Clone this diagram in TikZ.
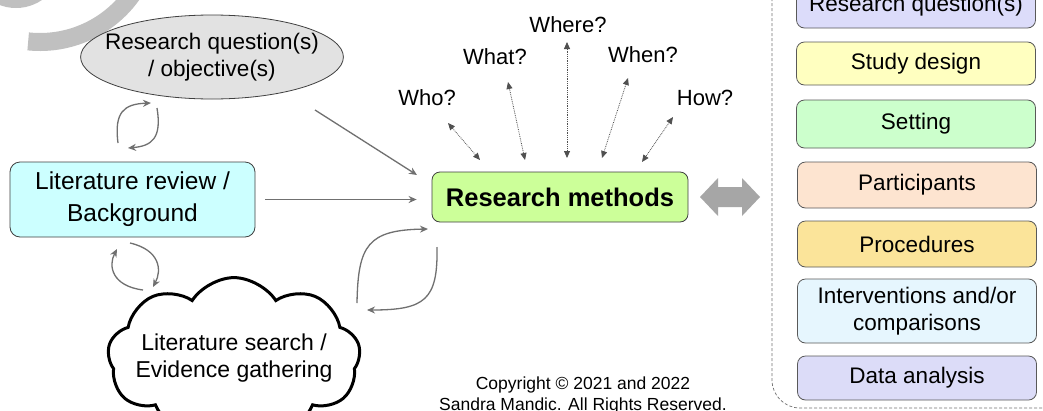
\documentclass[tikz,border=0pt]{standalone}
\usepackage{fontspec}
\setmainfont{Liberation Sans}
\usetikzlibrary{shapes.geometric,shapes.symbols,arrows.meta,calc}
\newcommand\fsz[2]{\fontsize{#1}{#2}\selectfont}
\definecolor{ringgrey}{HTML}{C0C0C0}
\definecolor{ellfill}{HTML}{E2E2E2}
\definecolor{litfill}{HTML}{CCFFFF}
\definecolor{rmfill}{HTML}{CCFF99}
\definecolor{connc}{HTML}{707070}
\definecolor{qc}{HTML}{505050}
\definecolor{blockc}{HTML}{A6A6A6}
\definecolor{rqfill}{HTML}{DCDCFA}
\definecolor{sdfill}{HTML}{FFFFC0}
\definecolor{setfill}{HTML}{CCFFCC}
\definecolor{parfill}{HTML}{FDE4D0}
\definecolor{profill}{HTML}{FBE49A}
\definecolor{intfill}{HTML}{E6F6FE}
\definecolor{dafill}{HTML}{DCDCF8}
\begin{document}
\begin{tikzpicture}[x=1pt,y=-1pt,
  rbox/.style={draw=black!65, line width=0.8pt, rounded corners=8pt,
    minimum width=239pt, inner sep=0pt, align=center, font=\fsz{22.5}{27}},
  conn/.style={draw=connc, line width=1.3pt, -{Stealth[length=8pt,width=7pt]}},
  cyc/.style={draw=connc, line width=1.3pt, -{Stealth[length=8pt,width=7pt]}},
  qarr/.style={draw=qc, line width=0.8pt, densely dotted,
    {Triangle[length=7pt,width=6pt]}-{Triangle[length=7pt,width=6pt]}},
  qlab/.style={font=\fsz{22}{25}, inner sep=0pt}
]
\useasboundingbox (0,0) rectangle (1043,410);
\clip (0,0) rectangle (1043,410);
\fill[white] (0,0) rectangle (1043,410);

% decorative grey fragments (top-left)
\fill[ringgrey] (16,-38) circle (46);
\draw[ringgrey, line width=18pt] (40,-71) ++(96:113) arc (96:30:113);

% ellipse
\node[ellipse, draw=black!75, line width=0.8pt, fill=ellfill, minimum width=260pt,
  minimum height=84pt, inner xsep=-14pt, inner ysep=0pt, align=center,
  font=\fsz{22.5}{27}]
  (rq) at (212,57) {Research question(s)\\/ objective(s)};

% literature review box
\node[draw=black!75, line width=0.8pt, fill=litfill, rounded corners=10pt,
  minimum width=245pt, minimum height=75pt, inner sep=0pt, align=center,
  font=\fsz{24.5}{32}] (lit) at (132.5,199.5) {Literature review /\\Background};

% research methods
\node[draw=black!75, line width=0.8pt, fill=rmfill, rounded corners=8pt,
  minimum width=256pt, minimum height=50pt, inner sep=0pt,
  font=\fsz{25.5}{30}\bfseries] (rm) at (560,197) {Research methods};

% cloud
\node[cloud, cloud puffs=9, cloud puff arc=115, aspect=2.0, draw=black,
  line width=3pt, fill=white, minimum width=250pt, minimum height=138pt,
  inner xsep=-12pt, inner ysep=0pt, align=center, font=\fsz{23}{27}] (cl) at (234,358)
  {Literature search /\\Evidence gathering};

% straight connectors
\draw[conn, shorten <=10pt, shorten >=15pt] (lit.east) -- (lit.east -| rm.west);
\coordinate (rqout) at (315,110);
\coordinate (rmin) at (417,175);
\draw[conn] (rqout) -- (rmin);

% cycle arrows: ellipse <-> literature review
\coordinate (c1a) at (118,143); \coordinate (c1b) at (151,103);
\coordinate (c1c) at (157,108); \coordinate (c1d) at (128,148);
\draw[cyc] (c1a) .. controls (114,112) and (124,104) .. (c1b);
\draw[cyc] (c1c) .. controls (162,138) and (152,146) .. (c1d);

% cycle arrows: literature review <-> cloud
\coordinate (c2a) at (130,243); \coordinate (c2b) at (153,287);
\coordinate (c2c) at (143,290); \coordinate (c2d) at (117,249);
\draw[cyc] (c2a) .. controls (160,250) and (162,270) .. (c2b);
\draw[cyc] (c2c) .. controls (112,286) and (108,266) .. (c2d);

% cycle arrows: cloud <-> research methods
\coordinate (c3a) at (357,303); \coordinate (c3b) at (428,229);
\coordinate (c3c) at (437,247); \coordinate (c3d) at (367,310);
\draw[cyc] (c3a) .. controls (358,245) and (368,230) .. (c3b);
\draw[cyc] (c3c) .. controls (438,300) and (425,310) .. (c3d);

% question labels
\node[qlab] (who) at (427,98) {Who?};
\node[qlab] (what) at (495,57) {What?};
\node[qlab] (where) at (568,25) {Where?};
\node[qlab] (when) at (643,55) {When?};
\node[qlab] (how) at (705,98) {How?};

\coordinate (qw1) at (448,123); \coordinate (qw2) at (480,160);
\coordinate (qa1) at (508,82);  \coordinate (qa2) at (525,160);
\coordinate (qe1) at (567,42);  \coordinate (qe2) at (567,158);
\coordinate (qn1) at (628,78);  \coordinate (qn2) at (602,158);
\coordinate (qh1) at (673,117); \coordinate (qh2) at (642,162);
\draw[qarr] (qw1) -- (qw2);
\draw[qarr] (qa1) -- (qa2);
\draw[qarr] (qe1) -- (qe2);
\draw[qarr] (qn1) -- (qn2);
\draw[qarr] (qh1) -- (qh2);

% grey block double arrow
\fill[blockc] (700,197) -- (718,178) -- (718,187) -- (742,187) -- (742,178)
  -- (760,197) -- (742,216) -- (742,207) -- (718,207) -- (718,216) -- cycle;

% right container
\draw[black!55, line width=0.7pt, densely dashed, rounded corners=28pt]
  (772,-40) rectangle (1075,408);

% right boxes
\node[rbox, fill=rqfill, minimum height=44pt] (b1) at (916,6) {Research question(s)};
\node[rbox, fill=sdfill, minimum height=43pt] (b2) at (916,63.5) {Study design};
\node[rbox, fill=setfill, minimum height=48pt] (b3) at (916,124) {Setting};
\node[rbox, fill=parfill, minimum height=46pt] (b4) at (917,185) {Participants};
\node[rbox, fill=profill, minimum height=46pt] (b5) at (917,244) {Procedures};
\node[rbox, fill=intfill, minimum height=64pt] (b6) at (917,311) {Interventions and/or\\comparisons};
\node[rbox, fill=dafill, minimum height=44pt] (b7) at (917,378) {Data analysis};

% copyright
\node[align=center, font=\fsz{17.5}{21}, inner sep=0pt] (copy) at (583,395)
  {Copyright \textcopyright\ 2021 and 2022\\Sandra Mandic. All Rights Reserved.};
\end{tikzpicture}
\end{document}
